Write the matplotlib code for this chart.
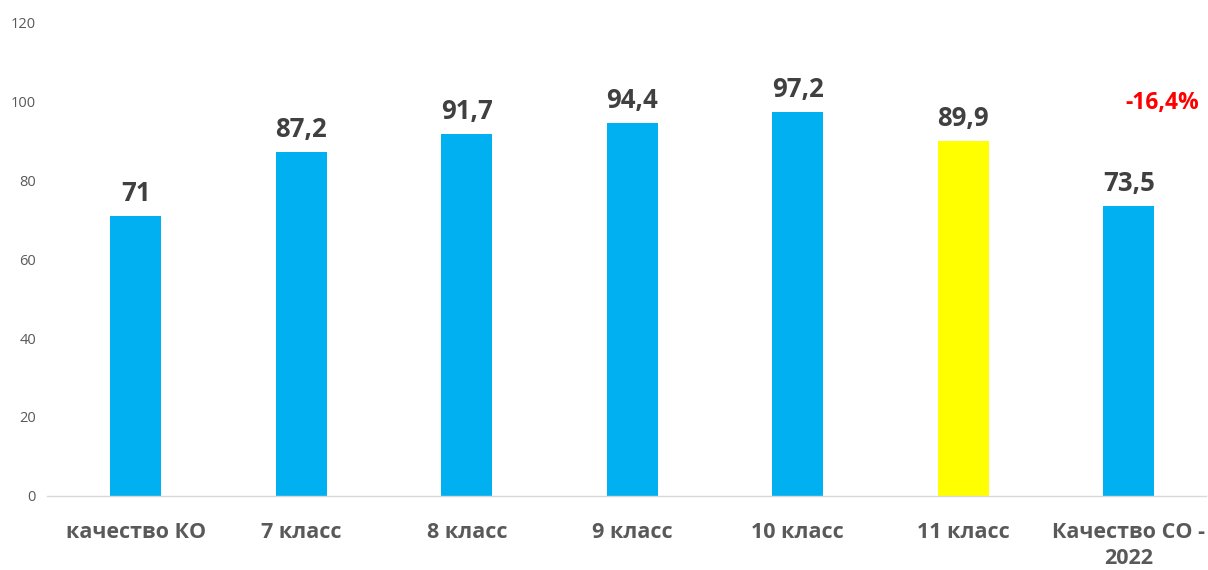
import matplotlib
matplotlib.use("Agg")
import matplotlib.pyplot as plt

# данные
categories = ["качество КО", "7 класс", "8 класс", "9 класс", "10 класс", "11 класс", "Качество СО -\n2022"]
values = [71, 87.2, 91.7, 94.4, 97.2, 89.9, 73.5]
value_labels = ["71", "87,2", "91,7", "94,4", "97,2", "89,9", "73,5"]
colors = ["#00B0F0"] * 5 + ["#FFFF00", "#00B0F0"]
change_label = "-16,4%"

plt.rcParams['font.family'] = ['Open Sans', 'DejaVu Sans']

fig = plt.figure(figsize=(12.08, 5.70), dpi=100)
ax = fig.add_axes([0.039, 0.13, 0.959, 0.831])

x = range(len(categories))
ax.bar(x, values, width=0.31, color=colors)

# подписи значений над столбцами
for i, v in enumerate(values):
    ax.text(i, v + 3.8, value_labels[i], ha="center", va="baseline",
            fontsize=18.5, fontweight="bold", color="#404040")

ax.text(6.2, 99.5, change_label, ha="center", va="center", fontsize=16.5,
        fontweight="bold", color="#FF0000")

ax.set_xlim(-0.536, 6.464)
ax.set_ylim(0, 120)
ax.set_yticks(range(0, 121, 20))
ax.set_xticks(list(x))
ax.set_xticklabels(categories, fontsize=15.5, fontweight="bold", color="#595959",
                   linespacing=1.3, va="top")
ax.tick_params(axis="y", length=0, labelsize=10.5, labelcolor="#595959", pad=8)
ax.tick_params(axis="x", length=0, pad=19)

for s in ["left", "right", "top"]:
    ax.spines[s].set_visible(False)
ax.spines["bottom"].set_color("#D9D9D9")
ax.spines["bottom"].set_linewidth(1)

fig.savefig("out.png", dpi=100)
